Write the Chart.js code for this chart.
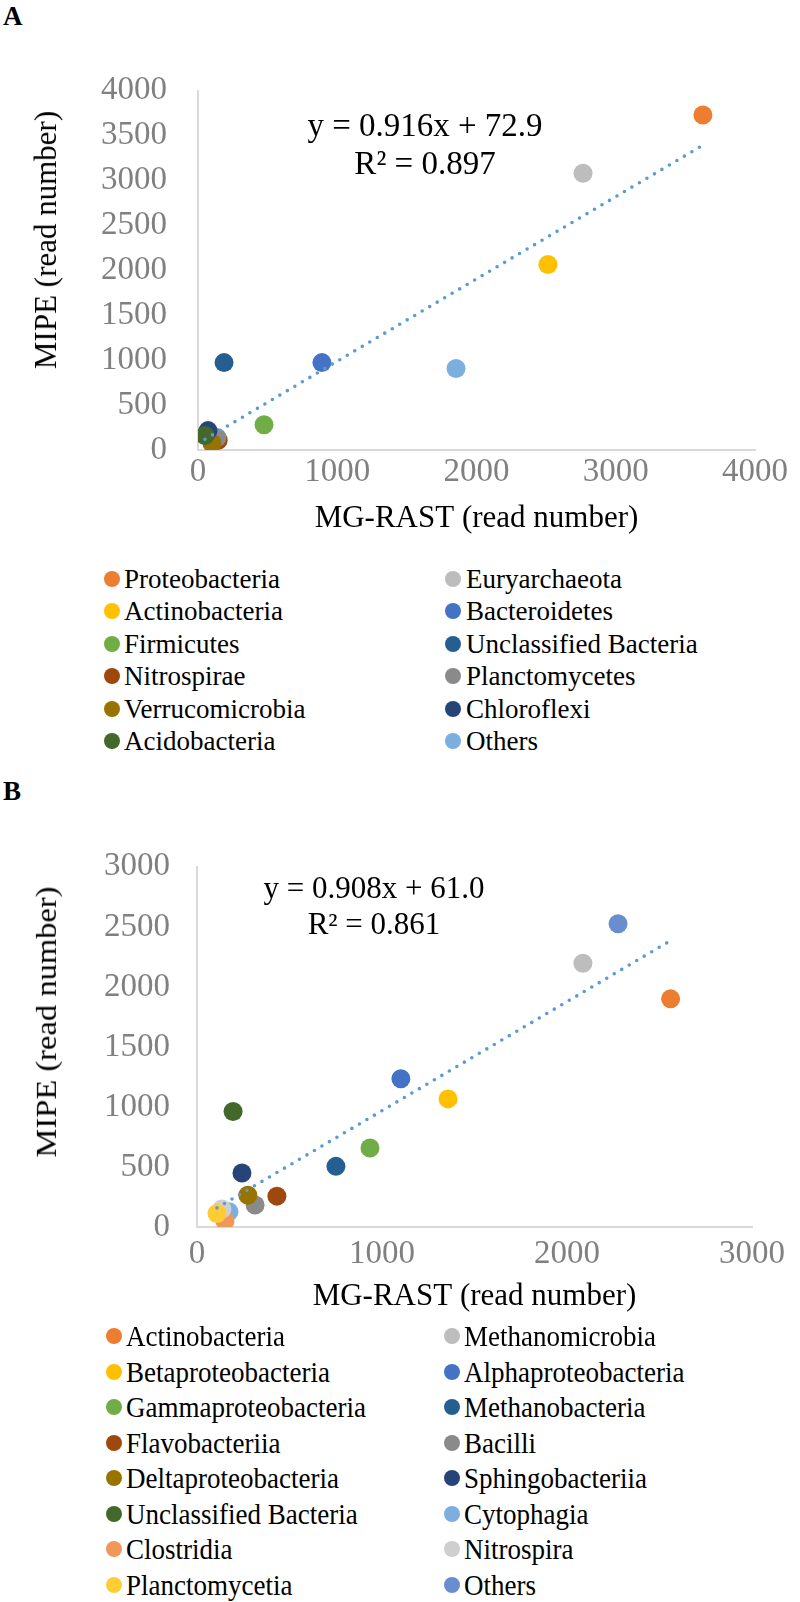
<!DOCTYPE html>
<html>
<head>
  <meta charset="utf-8">
  <title>MIPE vs MG-RAST read numbers</title>
  <script src="https://cdn.jsdelivr.net/npm/chart.js@4.4.1/dist/chart.umd.min.js"></script>
  <style>
    html, body {
      margin: 0; padding: 0;
      background-color: #fff;
    }
    body {
      width: 800px; height: 1602px;
      position: relative; overflow: hidden;
      font-family: "Liberation Serif", "Times New Roman", serif;
      color: #000;
    }
    .panel-label { position: absolute; left: 3px; font-weight: bold; font-size: 27px; line-height: 27px; }
    .wrap { position: absolute; left: 0; width: 800px; }
    .eq {
      position: absolute; text-align: center; white-space: nowrap;
      font-size: 33px; line-height: 38px;
      transform: translateX(-50%);
    }
    .ytitle {
      position: absolute; white-space: nowrap;
      font-size: 31px; line-height: 36px;
      transform: translate(-50%, -50%) rotate(-90deg);
    }
    .item { position: absolute; white-space: nowrap; font-size: 27px; transform-origin: left center; }
    #legendB .item { transform: scaleY(1.12); }
    .dot { position: absolute; width: 16px; height: 16px; border-radius: 50%; }
  </style>
</head>
<body>
  <div class="panel-label" style="top:3px">A</div>
  <div class="panel-label" style="top:778px">B</div>

  <div class="wrap" style="top:40px"><canvas id="chartA" width="800" height="520"></canvas></div>
  <div class="wrap" style="top:820px"><canvas id="chartB" width="800" height="500"></canvas></div>

  <div class="ytitle" style="left:46px; top:240px">MIPE (read number)</div>
  <div class="ytitle" style="left:46px; top:1022px; transform: translate(-50%, -50%) rotate(-90deg) scaleY(0.95) scaleX(1.05)">MIPE (read number)</div>

  <div class="eq" id="eqA" style="left:425px; top:106px"></div>
  <div class="eq" id="eqB" style="left:374px; top:870px; font-size:31px; line-height:36px"></div>

  <div id="legendA"></div>
  <div id="legendB"></div>

  <script>
    // ---- panel A: phylum level ----
    const namesA = ['Proteobacteria', 'Euryarchaeota', 'Actinobacteria', 'Bacteroidetes',
      'Firmicutes', 'Unclassified Bacteria', 'Nitrospirae', 'Planctomycetes',
      'Verrucomicrobia', 'Chloroflexi', 'Acidobacteria', 'Others'];
    const colorsA = ['#ED7D31', '#BDBDBD', '#FFC000', '#4472C4', '#70AD47', '#255E91',
      '#9E480E', '#8A8A8A', '#997300', '#264478', '#43682B', '#7CAFDD'];
    const mgrastA = [3626, 2765, 2513, 890, 474, 187, 145, 136, 100, 72, 50, 1853];
    const mipeA   = [3730, 3081, 2065, 973, 281, 973, 108, 140, 76, 216, 162, 908];
    const xTicksA = [0, 1000, 2000, 3000, 4000];
    const yTicksA = [0, 500, 1000, 1500, 2000, 2500, 3000, 3500, 4000];
    const slopeA = 0.916, interceptA = 72.9, r2A = 0.897;

    // ---- panel B: class level ----
    const namesB = ['Actinobacteria', 'Methanomicrobia', 'Betaproteobacteria', 'Alphaproteobacteria',
      'Gammaproteobacteria', 'Methanobacteria', 'Flavobacteriia', 'Bacilli',
      'Deltaproteobacteria', 'Sphingobacteriia', 'Unclassified Bacteria', 'Cytophagia',
      'Clostridia', 'Nitrospira', 'Planctomycetia', 'Others'];
    const colorsB = ['#ED7D31', '#BDBDBD', '#FFC000', '#4472C4', '#70AD47', '#255E91',
      '#9E480E', '#8A8A8A', '#997300', '#264478', '#43682B', '#7CAFDD',
      '#F1975A', '#CFCFCF', '#FFCD33', '#698ED0'];
    const mgrastB = [2560, 2086, 1357, 1102, 935, 751, 432, 314, 275, 243, 195, 173, 151, 135, 108, 2276];
    const mipeB   = [1900, 2197, 1067, 1235, 658, 505, 257, 184, 265, 449, 962, 128, 48, 150, 112, 2526];
    const xTicksB = [0, 1000, 2000, 3000];
    const yTicksB = [0, 500, 1000, 1500, 2000, 2500, 3000];
    const slopeB = 0.908, interceptB = 61.0, r2B = 0.861;

    const FONT = '"Liberation Serif", "Times New Roman", serif';

    function buildChart(id, p) {
      const datasets = p.names.map((name, i) => ({
        label: name,
        data: [{ x: p.xs[i], y: p.ys[i] }],
        backgroundColor: p.colors[i],
        borderWidth: 0,
        pointRadius: 9.5,
        pointHoverRadius: 9.5,
        order: -i   // later series on top, like the original
      }));
      // linear trendline across the data range, from the printed fit
      const xmin = Math.min(...p.xs), xmax = Math.max(...p.xs);
      datasets.push({
        label: 'trend',
        data: [{ x: xmin, y: p.slope * xmin + p.intercept }, { x: xmax, y: p.slope * xmax + p.intercept }],
        showLine: true,
        borderColor: '#5B9BD5',
        borderWidth: 3.6,
        borderDash: [0, 8.7],
        borderCapStyle: 'round',
        pointRadius: 0,
        order: -100
      });

      const axisBorder = { display: true, color: '#D9D9D9', width: 2 };
      const plain = v => String(v);
      return new Chart(document.getElementById(id), {
        type: 'scatter',
        data: { datasets },
        options: {
          responsive: false,
          animation: false,
          layout: { padding: p.pad },
          plugins: { legend: { display: false }, tooltip: { enabled: false } },
          scales: {
            x: {
              type: 'linear', min: p.xTicks[0], max: p.xTicks[p.xTicks.length - 1],
              afterBuildTicks: s => { s.ticks = p.xTicks.map(v => ({ value: v })); },
              afterFit: s => { s.height = p.xHeight; },
              grid: { display: false, drawTicks: false },
              border: axisBorder,
              ticks: { color: '#808080', font: { family: FONT, size: 33 }, padding: p.xTickPad, maxRotation: 0, callback: plain },
              title: {
                display: true, text: 'MG-RAST (read number)', color: '#000',
                font: { family: FONT, size: 31 }, padding: { top: 0, bottom: p.xTitlePad }
              }
            },
            y: {
              type: 'linear', min: p.yTicks[0], max: p.yTicks[p.yTicks.length - 1],
              afterBuildTicks: s => { s.ticks = p.yTicks.map(v => ({ value: v })); },
              afterFit: s => { s.width = p.yWidth; },
              grid: { display: false, drawTicks: false },
              border: axisBorder,
              ticks: { color: '#808080', font: { family: FONT, size: 33 }, padding: p.yTickPad, callback: plain }
            }
          }
        }
      });
    }

    function buildLegend(el, names, colors, opt) {
      names.forEach((name, i) => {
        const col = i % 2, row = Math.floor(i / 2);
        const cy = opt.top + row * opt.step;
        const dot = document.createElement('div');
        dot.className = 'dot';
        dot.style.left = (opt.dotX[col] - 8) + 'px';
        dot.style.top = (cy - 8) + 'px';
        dot.style.background = colors[i];
        const txt = document.createElement('div');
        txt.className = 'item';
        txt.textContent = name;
        txt.style.left = opt.textX[col] + 'px';
        txt.style.top = (cy - 16) + 'px';
        txt.style.lineHeight = '32px';
        el.appendChild(dot);
        el.appendChild(txt);
      });
    }

    buildChart('chartA', {
      names: namesA, colors: colorsA, xs: mgrastA, ys: mipeA,
      slope: slopeA, intercept: interceptA, xTicks: xTicksA, yTicks: yTicksA,
      pad: { top: 40, right: 45, left: 0, bottom: 0 },
      xHeight: 110, yWidth: 198, xTickPad: 3, yTickPad: 31, xTitlePad: 23
    });
    buildChart('chartB', {
      names: namesB, colors: colorsB, xs: mgrastB, ys: mipeB,
      slope: slopeB, intercept: interceptB, xTicks: xTicksB, yTicks: yTicksB,
      pad: { top: 32, right: 48, left: 0, bottom: 0 },
      xHeight: 93, yWidth: 197, xTickPad: 8, yTickPad: 27, xTitlePad: 5
    });

    document.getElementById('eqA').innerHTML =
      'y = ' + slopeA.toFixed(3) + 'x + ' + interceptA.toFixed(1) + '<br>R² = ' + r2A.toFixed(3);
    document.getElementById('eqB').innerHTML =
      'y = ' + slopeB.toFixed(3) + 'x + ' + interceptB.toFixed(1) + '<br>R² = ' + r2B.toFixed(3);

    buildLegend(document.getElementById('legendA'), namesA, colorsA,
      { top: 579, step: 32.4, dotX: [112, 453], textX: [124, 466] });
    buildLegend(document.getElementById('legendB'), namesB, colorsB,
      { top: 1336, step: 35.5, dotX: [114, 452], textX: [126, 464] });
  </script>
</body>
</html>
